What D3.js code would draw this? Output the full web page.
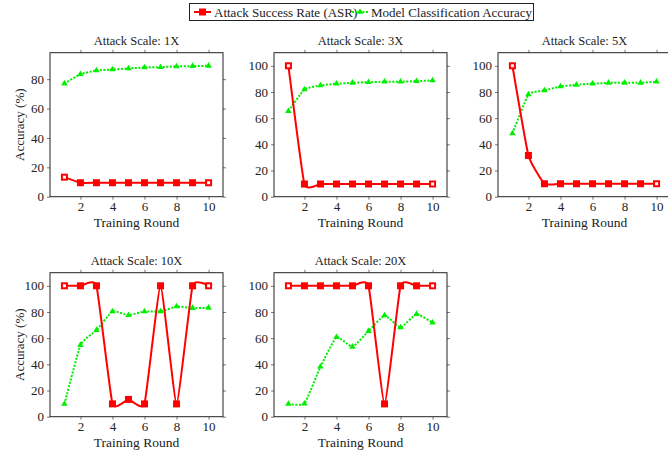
<!DOCTYPE html>
<html><head><meta charset="utf-8">
<script src="https://cdn.jsdelivr.net/npm/d3@7"></script>
<style>
body{margin:0;background:#fff;}
text{font-family:"Liberation Serif","Times New Roman",serif;fill:#222;}
</style></head>
<body><svg id="c" width="668" height="455"></svg>
<script>
const rounds = [1,2,3,4,5,6,7,8,9,10];
const titles = ["Attack Scale: 1X","Attack Scale: 3X","Attack Scale: 5X","Attack Scale: 10X","Attack Scale: 20X"];
const asr1x  = [13.3,9.5,9.5,9.5,9.5,9.5,9.5,9.5,9.5,9.5];
const acc1x  = [77.0,83.4,85.9,86.6,87.3,88.0,88.2,88.7,88.9,89.1];
const asr3x  = [100,9.7,9.7,9.7,9.7,9.7,9.7,9.7,9.7,9.7];
const acc3x  = [65.4,81.9,85.0,86.3,87.0,87.5,87.8,87.8,88.3,88.8];
const asr5x  = [100,31.5,9.9,9.9,9.9,9.9,9.9,9.9,9.9,9.9];
const acc5x  = [48.3,78.1,81.2,84.2,85.5,86.3,87.0,87.0,87.0,87.8];
const asr10x = [100,100,100,9.8,13.2,9.8,100,9.8,100,100];
const acc10x = [9.7,54.7,66.2,80.4,77.6,80.4,80.4,84.2,83.0,83.2];
const asr20x = [100,100,100,100,100,100,9.8,100,100,100];
const acc20x = [9.7,10.0,38.2,60.8,53.4,65.4,77.4,68.2,78.4,71.8];
const xTicks = [2,4,6,8,10];
const seriesNames = ["Attack Success Rate (ASR)","Model Classification Accuracy"];

const asrSets = [asr1x,asr3x,asr5x,asr10x,asr20x];
const accSets = [acc1x,acc3x,acc5x,acc10x,acc20x];

const RED = "#ff0000", GREEN = "#00ee00";
const svg = d3.select("#c");
const W = 173, H = 144;
const tri = d3.symbol().type(d3.symbolTriangle).size(18);
const FONT = "'Liberation Serif','Times New Roman',serif";

function drawPanel(i){
  const col = i % 3, row = Math.floor(i/3);
  const x0 = 50 + 224*col, y0 = 52.7 + 220*row;
  const g = svg.append("g").attr("transform",`translate(${x0},${y0})`);
  const asr = asrSets[i], acc = accSets[i];
  const maxV = d3.max(asr.concat(acc));
  const x = d3.scaleLinear().domain([1-0.9,10+0.9]).range([0,W]);
  const y = d3.scaleLinear().domain([0,maxV*1.1]).range([H,0]);
  const yTicks = d3.range(0, maxV*1.1+0.001, 20);

  const ax = (sel)=>sel.selectAll(".domain").remove();
  g.append("g").attr("transform",`translate(0,${H})`)
    .call(d3.axisBottom(x).tickValues(xTicks).tickSize(3).tickPadding(2)).call(ax);
  g.append("g").call(d3.axisTop(x).tickValues(xTicks).tickSize(3).tickFormat("")).call(ax);
  g.append("g").call(d3.axisLeft(y).tickValues(yTicks).tickSize(3).tickPadding(3)).call(ax);
  g.append("g").attr("transform",`translate(${W},0)`)
    .call(d3.axisRight(y).tickValues(yTicks).tickSize(3).tickFormat("")).call(ax);
  g.selectAll(".tick line").attr("stroke","#777");
  g.selectAll(".tick text").style("font-family",FONT).style("font-size","13px").attr("fill","#222");

  g.append("rect").attr("width",W).attr("height",H).attr("fill","none").attr("stroke","#222").attr("stroke-width",1);

  const line = d3.line().x((d,j)=>x(rounds[j])).y(d=>y(d)).curve(d3.curveCardinal.tension(0.6));
  g.append("path").datum(acc).attr("d",line).attr("fill","none")
    .attr("stroke",GREEN).attr("stroke-width",2).attr("stroke-dasharray","2,1.5");
  g.selectAll(".tri").data(acc).enter().append("path")
    .attr("d",tri).attr("fill",GREEN)
    .attr("transform",(d,j)=>`translate(${x(rounds[j])},${y(d)})`);
  g.append("path").datum(asr).attr("d",line).attr("fill","none")
    .attr("stroke",RED).attr("stroke-width",2);
  g.selectAll(".sq").data(asr).enter().append("rect")
    .attr("x",(d,j)=>x(rounds[j])-3.5).attr("y",d=>y(d)-3.5)
    .attr("width",7).attr("height",7).attr("fill",RED);
  g.selectAll(".sqi").data([0,9]).enter().append("rect")
    .attr("x",j=>x(rounds[j])-1.5).attr("y",j=>y(asr[j])-1.5)
    .attr("width",3).attr("height",3).attr("fill","#fff");

  g.append("text").attr("x",W/2).attr("y",-8).attr("text-anchor","middle")
    .style("font-size","12.5px").text(titles[i]);
  g.append("text").attr("x",W/2).attr("y",H+30).attr("text-anchor","middle")
    .style("font-size","13.5px").text("Training Round");
  if(col===0){
    g.append("text").attr("transform",`translate(${-26},${H/2}) rotate(-90)`)
      .attr("text-anchor","middle").style("font-size","13px").text("Accuracy (%)");
  }
}
for(let i=0;i<5;i++) drawPanel(i);

const lg = svg.append("g");
lg.append("rect").attr("x",189.5).attr("y",3.5).attr("width",344).attr("height",17)
  .attr("fill","#fff").attr("stroke","#222").attr("stroke-width",1);
lg.append("line").attr("x1",194).attr("x2",211).attr("y1",12).attr("y2",12).attr("stroke",RED).attr("stroke-width",2);
lg.append("rect").attr("x",199).attr("y",8.5).attr("width",7).attr("height",7).attr("fill",RED);
lg.append("text").attr("x",214).attr("y",16.5).style("font-size","13px").text(seriesNames[0]);
lg.append("line").attr("x1",352).attr("x2",368).attr("y1",12).attr("y2",12).attr("stroke",GREEN).attr("stroke-width",2).attr("stroke-dasharray","2,1.5");
lg.append("path").attr("d",tri).attr("fill",GREEN).attr("transform","translate(360,12)");
lg.append("text").attr("x",371).attr("y",16.5).style("font-size","13px").text(seriesNames[1]);
</script></body></html>
